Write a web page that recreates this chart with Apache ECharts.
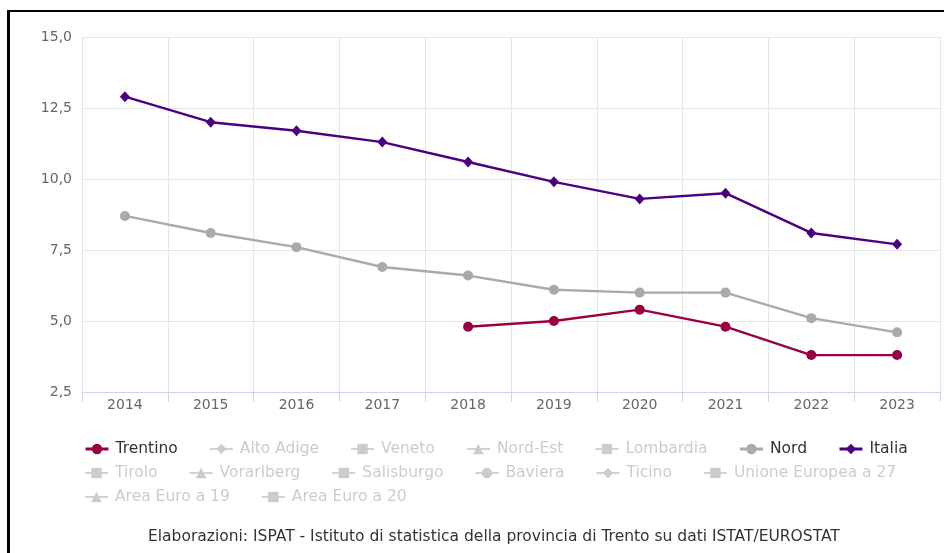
<!DOCTYPE html>
<html lang="it">
<head>
<meta charset="UTF-8">
<title>Trentino, Nord, Italia</title>
<script src="https://cdn.jsdelivr.net/npm/echarts@6/dist/echarts.min.js"></script>
<style>
html,body{margin:0;padding:0;background:#fff}
#frame{position:absolute;left:7px;top:10px;width:960px;height:560px;border-left:3px solid #000;border-top:2px solid #000}
#chartBox{position:absolute;left:0;top:0;width:944px;height:553px}
</style>
</head>
<body>
<div id="frame"></div>
<div id="chartBox"></div>
<script>
// dati
const anni = ['2014','2015','2016','2017','2018','2019','2020','2021','2022','2023'];
const trentino = [null, null, null, null, 4.8, 5.0, 5.4, 4.8, 3.8, 3.8];
const nord = [8.7, 8.1, 7.6, 6.9, 6.6, 6.1, 6.0, 6.0, 5.1, 4.6];
const italia = [12.9, 12.0, 11.7, 11.3, 10.6, 9.9, 9.3, 9.5, 8.1, 7.7];
// righe della legenda (le serie non selezionate non hanno dati visibili)
const righeLegenda = [
    ['Trentino','Alto Adige','Veneto','Nord-Est','Lombardia','Nord','Italia'],
    ['Tirolo','Vorarlberg','Salisburgo','Baviera','Ticino','Unione Europea a 27'],
    ['Area Euro a 19','Area Euro a 20']
];
const nomiSerie = [].concat(...righeLegenda);
const simboli = ['circle','diamond','rect','triangle','triangle-down'];
const visibili = {'Trentino': trentino, 'Nord': nord, 'Italia': italia};
const colori = {'Trentino': '#990044', 'Nord': '#aaaaaa', 'Italia': '#4b0082'};

const FONT = 'DejaVu Sans';
const ROMBO = 'path://M5,0 L10,5.5 L5,11 L0,5.5 Z';

function serie(){
    return nomiSerie.map(function(nome, i){
        const s = simboli[i % 5];
        return {
            type: 'line',
            name: nome,
            data: visibili[nome] || [],
            symbol: s === 'diamond' ? ROMBO : s,
            symbolSize: s === 'diamond' ? [10, 11] : 10,
            showSymbol: true,
            connectNulls: false,
            color: colori[nome] || '#7cb5ec',
            lineStyle: {width: 2.4},
            emphasis: {disabled: true}
        };
    });
}

const selezione = {};
nomiSerie.forEach(n => selezione[n] = !!visibili[n]);

function legende(){
    return righeLegenda.map(function(riga, r){
        return {
            left: 79, top: 436 + r * 24,
            orient: 'horizontal',
            itemGap: 31, itemWidth: 23, itemHeight: 13,
            selected: selezione,
            inactiveColor: '#cccccc',
            lineStyle: {width: 3},
            textStyle: {fontFamily: FONT, fontSize: 15.5, color: '#333', padding: [0, 0, 0, 2]},
            data: riga
        };
    });
}

const chartObj = echarts.init(document.getElementById('chartBox'));
chartObj.setOption({
    animation: false,
    grid: {left: 82, right: 4, top: 37, bottom: 161, containLabel: false},
    title: {
        text: 'Elaborazioni: ISPAT - Istituto di statistica della provincia di Trento su dati ISTAT/EUROSTAT',
        left: 143, top: 524,
        textStyle: {fontFamily: FONT, fontSize: 15.5, fontWeight: 'normal', color: '#333'}
    },
    legend: legende(),
    xAxis: {
        type: 'category',
        data: anni,
        boundaryGap: true,
        axisLine: {lineStyle: {color: '#ccd6eb'}},
        axisTick: {show: true, length: 10, lineStyle: {color: '#ccd6eb'}},
        splitLine: {show: true, lineStyle: {color: '#e6e6e6'}},
        axisLabel: {fontFamily: FONT, fontSize: 14, color: '#666', margin: 6}
    },
    yAxis: {
        type: 'value',
        min: 2.5, max: 15, interval: 2.5,
        axisLine: {show: false},
        axisTick: {show: false},
        splitLine: {lineStyle: {color: '#e6e6e6'}},
        axisLabel: {
            fontFamily: FONT, fontSize: 14, color: '#666', margin: 10,
            formatter: v => v.toFixed(1).replace('.', ',')
        }
    },
    series: serie()
});
</script>
</body>
</html>
